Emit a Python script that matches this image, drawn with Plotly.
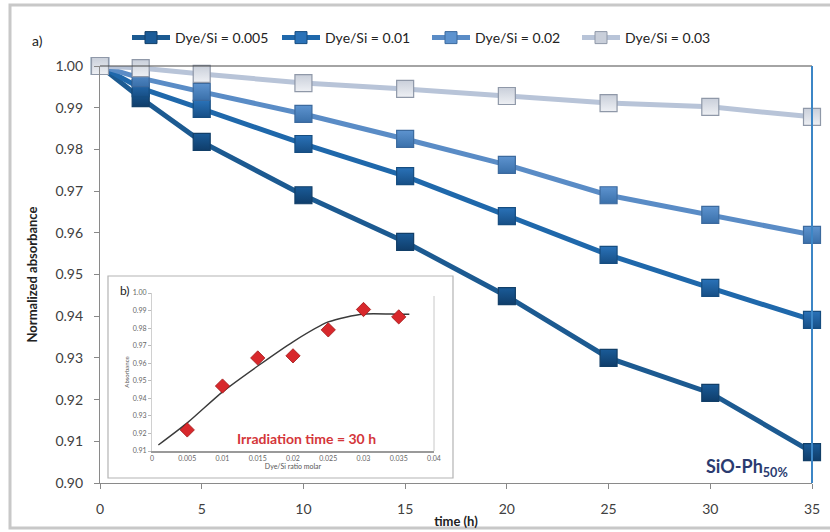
import plotly.graph_objects as go

# ---------------- data ----------------
time_h = [0, 2, 5, 10, 15, 20, 25, 30, 35]
dye_005 = [1.000, 0.9923, 0.9818, 0.9690, 0.9578, 0.9448, 0.9300, 0.9216, 0.9074]
dye_010 = [1.000, 0.9947, 0.9897, 0.9813, 0.9736, 0.9640, 0.9547, 0.9468, 0.9391]
dye_020 = [1.000, 0.9971, 0.9938, 0.9885, 0.9825, 0.9763, 0.9690, 0.9643, 0.9595]
dye_030 = [1.000, 0.9995, 0.9981, 0.9959, 0.9945, 0.9928, 0.9911, 0.9902, 0.9878]
series_names = ["Dye/Si = 0.005", "Dye/Si = 0.01", "Dye/Si = 0.02", "Dye/Si = 0.03"]
y_ticks = [0.90, 0.91, 0.92, 0.93, 0.94, 0.95, 0.96, 0.97, 0.98, 0.99, 1.00]
x_ticks = [0, 5, 10, 15, 20, 25, 30, 35]

# inset (b)
ratio = [0.005, 0.010, 0.015, 0.020, 0.025, 0.030, 0.035]
absorb_30h = [0.922, 0.947, 0.963, 0.9642, 0.979, 0.9906, 0.9864]
fit_x = [0.0009, 0.005, 0.010, 0.015, 0.020, 0.025, 0.030, 0.035, 0.0365]
fit_y = [0.9134, 0.926, 0.9437, 0.9584, 0.9722, 0.9835, 0.9880, 0.9879, 0.9879]
inset_x_ticks = [0, 0.005, 0.01, 0.015, 0.02, 0.025, 0.03, 0.035, 0.04]
inset_x_text = ["0", "0.005", "0.01", "0.015", "0.02", "0.025", "0.03", "0.035", "0.04"]
inset_y_ticks = [0.91, 0.92, 0.93, 0.94, 0.95, 0.96, 0.97, 0.98, 0.99, 1.00]

# ---------------- styling ----------------
line_colors = ["#1c5a91", "#1f68ab", "#5a8cc6", "#b8c4d8"]
marker_colors = ["#1a5b98", "#2a72b8", "#5d93cf", "#c9cfda"]
marker_edges = ["#123f68", "#164d80", "#3c6a9e", "#8f98a8"]
marker_grad = ["#0f3d6a", "#174f86", "#3a70aa", "#eef0f4"]
FONT = "Lato"

fig = go.Figure()
all_series = [dye_005, dye_010, dye_020, dye_030]
for name, ys, lc, mc, me, mg in zip(series_names, all_series, line_colors,
                                     marker_colors, marker_edges, marker_grad):
    fig.add_trace(go.Scatter(
        x=time_h, y=ys, name=name, mode="lines+markers", showlegend=False,
        line=dict(color=lc, width=5),
        marker=dict(symbol="square", size=17, color=mc,
                    line=dict(color=me, width=1.2),
                    gradient=dict(type="vertical", color=mg)),
        xaxis="x", yaxis="y", cliponaxis=False,
    ))
# legend entries (smaller symbols as in the reference)
for name, lc, mc, me in zip(series_names, line_colors, marker_colors, marker_edges):
    fig.add_trace(go.Scatter(
        x=[None], y=[None], name=name, mode="lines+markers",
        line=dict(color=lc, width=5),
        marker=dict(symbol="square", size=12, color=mc, line=dict(color=me, width=1)),
        xaxis="x", yaxis="y",
    ))

# inset traces
fig.add_trace(go.Scatter(
    x=fit_x, y=fit_y, mode="lines",
    line=dict(color="#3a3a3a", width=1.4, shape="spline", smoothing=0.7),
    xaxis="x2", yaxis="y2", showlegend=False, hoverinfo="skip"))
fig.add_trace(go.Scatter(
    x=ratio, y=absorb_30h, mode="markers",
    marker=dict(symbol="diamond", size=11, color="#d8282c",
                line=dict(color="#a01818", width=0.8)),
    xaxis="x2", yaxis="y2", showlegend=False))

W, H = 830, 532
L, R, T, B = 100, 18, 66, 49
pw, ph = W - L - R, H - T - B

def px(xp):
    return (xp - L) / pw

def py(yp):
    return (H - B - yp) / ph

shapes = [
    # outer light frame
    dict(type="rect", xref="paper", yref="paper", x0=px(10), x1=px(832), y0=py(528), y1=py(5),
         line=dict(color="#c8c8c8", width=3), layer="below"),
    # main plot top border and right border
    dict(type="line", xref="paper", yref="paper", x0=0, x1=1, y0=1, y1=1,
         line=dict(color="#4a4a4a", width=1.2)),
    dict(type="line", xref="paper", yref="paper", x0=1, x1=1, y0=0, y1=1,
         line=dict(color="#3c86c6", width=2)),
    # inset box
    dict(type="rect", xref="paper", yref="paper", x0=px(108), x1=px(453), y0=py(478), y1=py(276),
         line=dict(color="#b4b4b4", width=1.2), fillcolor="white", layer="below"),
    # inset right plot edge
    dict(type="line", xref="paper", yref="paper", x0=px(434), x1=px(434), y0=py(451), y1=py(296),
         line=dict(color="#c8c8c8", width=1)),
]

annotations = [
    dict(text="a)", xref="paper", yref="paper", x=px(30), y=py(30), showarrow=False,
         font=dict(family=FONT, size=14, color="#222")),
    dict(text="b)", xref="paper", yref="paper", x=px(118), y=py(290), showarrow=False,
         font=dict(family=FONT, size=12, color="#222")),
    dict(text="<b>SiO-Ph<sub>50%</sub></b>", xref="x", yref="y", x=31.8, y=0.9036, showarrow=False,
         font=dict(family=FONT, size=18, color="#2b3b70")),
    dict(text="<b>Irradiation time = 30 h</b>", xref="x2", yref="y2", x=0.0219, y=0.9169,
         showarrow=False, font=dict(family=FONT, size=14, color="#d4363a")),
]

fig.update_layout(
    width=W, height=H,
    margin=dict(l=L, r=R, t=T, b=B, autoexpand=False),
    paper_bgcolor="white", plot_bgcolor="white",
    font=dict(family=FONT, color="#404040"),
    showlegend=True,
    legend=dict(orientation="h", x=px(127), y=py(38), xanchor="left", yanchor="middle",
                entrywidth=97, entrywidthmode="pixels", itemwidth=38,
                font=dict(family=FONT, size=14, color="#222"), bgcolor="rgba(0,0,0,0)",
                tracegroupgap=0),
    xaxis=dict(domain=[0, 1], range=[0, 35], tickvals=x_ticks, ticks="outside", ticklen=5,
               tickcolor="#888", showline=True, linecolor="#8a8a8a", linewidth=1.2,
               showgrid=False, zeroline=False, tickfont=dict(size=14, color="#404040"),
               ticklabelstandoff=8, automargin=False,
               title=dict(text="<b>time (h)</b>", font=dict(size=13, color="#222"), standoff=0)),
    yaxis=dict(domain=[0, 1], range=[0.90, 1.00], tickvals=y_ticks, tickformat=".2f",
               ticks="outside", ticklen=5, tickcolor="#888", showline=True, linecolor="#8a8a8a",
               linewidth=1.2, showgrid=False, zeroline=False, automargin=False,
               tickfont=dict(size=14, color="#404040"), ticklabelstandoff=8,
               title=dict(text="<b>Normalized absorbance</b>", font=dict(size=13, color="#222"),
                          standoff=14)),
    xaxis2=dict(domain=[px(152), px(434)], anchor="y2", range=[0, 0.04], tickvals=inset_x_ticks,
                ticktext=inset_x_text, ticks="", showline=True, linecolor="#9a9a9a", linewidth=1.5,
                showgrid=False, zeroline=False, tickfont=dict(size=7, color="#666"),
                automargin=False,
                title=dict(text="Dye/Si ratio molar", font=dict(size=7, color="#555"), standoff=1)),
    yaxis2=dict(domain=[py(451), py(293)], anchor="x2", range=[0.91, 1.00],
                tickvals=inset_y_ticks, tickformat=".2f", ticks="outside", ticklen=3,
                tickcolor="#bbb", showline=True, linecolor="#d0d0d0", linewidth=1,
                showgrid=False, zeroline=False, tickfont=dict(size=7, color="#666"),
                automargin=False,
                title=dict(text="Absorbance", font=dict(size=6, color="#555"), standoff=2)),
    shapes=shapes, annotations=annotations,
)

fig.write_html("out.html", config={"displayModeBar": False},
               post_script="document.body.style.margin='0';document.body.style.overflow='hidden';")
